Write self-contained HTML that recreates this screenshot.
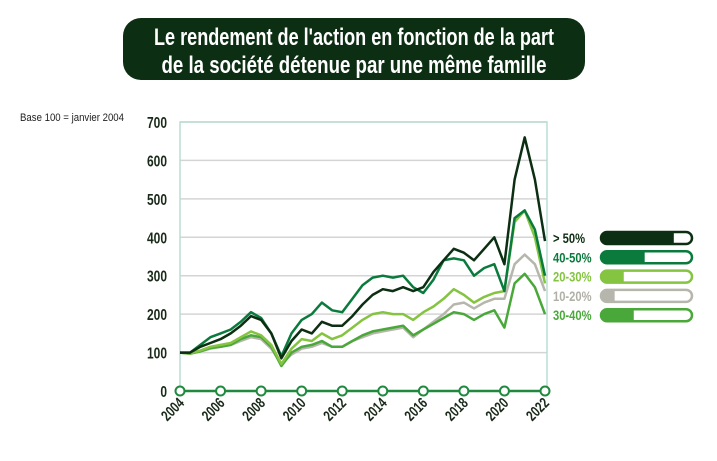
<!DOCTYPE html>
<html><head><meta charset="utf-8"><style>
body{margin:0;background:#fff;width:717px;height:461px;overflow:hidden;font-family:"Liberation Sans",sans-serif}
</style></head><body>
<svg id="chart" width="717" height="461" style="position:absolute;left:0;top:0">
<rect x="123" y="18" width="462" height="62" rx="18" fill="#0c2e12"/>
<text x="354" y="45" text-anchor="middle" font-size="24" font-weight="bold" fill="#fff" textLength="400" lengthAdjust="spacingAndGlyphs">Le rendement de l'action en fonction de la part</text>
<text x="354" y="73" text-anchor="middle" font-size="24" font-weight="bold" fill="#fff" textLength="385" lengthAdjust="spacingAndGlyphs">de la société détenue par une même famille</text>
<text x="20" y="121" font-size="11" fill="#222" textLength="104" lengthAdjust="spacingAndGlyphs">Base 100 = janvier 2004</text>
</svg>
<script>
const years=[2004,2004.5,2005,2005.5,2006,2006.5,2007,2007.5,2008,2008.5,2009,2009.5,2010,2010.5,2011,2011.5,2012,2012.5,2013,2013.5,2014,2014.5,2015,2015.5,2016,2016.5,2017,2017.5,2018,2018.5,2019,2019.5,2020,2020.5,2021,2021.5,2022];
const s50=[100,100,115,125,135,150,170,195,185,150,85,130,160,150,180,170,170,195,225,250,265,260,270,260,270,310,340,370,360,340,370,400,330,550,660,550,390];
const s4050=[100,100,120,140,150,160,180,205,190,150,90,150,185,200,230,210,205,240,275,295,300,295,300,270,255,290,340,345,340,300,320,330,260,450,470,420,300];
const s2030=[100,98,105,115,120,125,140,155,145,120,70,110,135,130,150,135,145,165,185,200,205,200,200,185,205,220,240,265,250,230,245,255,260,440,470,400,280];
const s1020=[100,97,103,110,115,120,130,140,135,110,70,95,110,115,125,115,115,130,140,150,155,160,165,140,160,180,200,225,230,215,230,240,240,330,355,330,260];
const s3040=[100,97,103,112,115,120,135,145,140,115,65,100,115,120,130,115,115,130,145,155,160,165,170,145,160,175,190,205,200,185,200,210,165,280,305,270,200];
const yTicks=[0,100,200,300,400,500,600,700];
const xTicks=[2004,2006,2008,2010,2012,2014,2016,2018,2020,2022];
const legendLabels=["> 50%","40-50%","20-30%","10-20%","30-40%"];
const legendShares=[0.8,0.48,0.25,0.15,0.36];
const colors=["#0c2e12","#0b7a3d","#84c441","#b6b6ad","#4aa83a"];
const NS="http://www.w3.org/2000/svg",svg=document.getElementById('chart');
const X=v=>180+(v-2004)*(365/18), Y=v=>391-v*(269/700);
function mk(t,a){const e=document.createElementNS(NS,t);for(const k in a)e.setAttribute(k,a[k]);svg.appendChild(e);return e;}
yTicks.forEach(t=>{
 if(t>0){const g=mk('line',{x1:180,x2:547,y1:Y(t),y2:Y(t),stroke:'#d4d4d4','stroke-width':1.5});
 
 }
 const l=mk('text',{'text-anchor':'end','font-size':16,'font-weight':'bold',fill:'#1a2a1a',transform:`translate(167 ${Y(t)+6}) scale(0.75 1)`});l.textContent=t;
 
 
});
const fr=mk('path',{d:`M180 391V${Y(700)}H547V391`,fill:'none',stroke:'#b9ddd3','stroke-width':1.5});


const order=[3,4,2,1,0];
order.forEach(i=>{
 const d=[s50,s4050,s2030,s1020,s3040][i];
 const p=mk('path',{d:'M'+d.map((v,j)=>X(years[j]).toFixed(1)+' '+Y(v).toFixed(1)).join('L'),fill:'none',stroke:colors[i],'stroke-width':2.5,'stroke-linejoin':'round'});
 
 
});
const ax=mk('line',{x1:180,x2:547,y1:391,y2:391,stroke:'#1f8a3e','stroke-width':2.5});


xTicks.forEach(t=>{
 const c=mk('circle',{cx:X(t),cy:391,r:4.5,fill:'#fff',stroke:'#1f8a3e','stroke-width':2});
 
 
 const l=mk('text',{'text-anchor':'end','font-size':15,'font-weight':'bold',fill:'#1a2a1a',transform:`translate(${X(t)+5} 404) rotate(-45) scale(0.75 1)`});l.textContent=t;
 
 
});
legendLabels.forEach((lab,i)=>{
 const y=238+i*19.3;
 const t=mk('text',{'font-size':14,'font-weight':'bold',fill:colors[i]==='#b6b6ad'?'#b0b0a6':colors[i],transform:`translate(553 ${y+5}) scale(0.8 1)`});t.textContent=lab;
 
 
 const w=91,x0=601;
 const cp=mk('clipPath',{id:'cp'+i});
 const cr=document.createElementNS(NS,'rect');
 cr.setAttribute('x',x0);cr.setAttribute('y',y-6);cr.setAttribute('width',w);cr.setAttribute('height',12);cr.setAttribute('rx',6);
 cp.appendChild(cr);
 const f=mk('rect',{x:x0,y:y-6,width:w*legendShares[i],height:12,fill:colors[i],'clip-path':`url(#cp${i})`});
 
 
 const o=mk('rect',{x:x0,y:y-6,width:w,height:12,rx:6,fill:'none',stroke:colors[i],'stroke-width':2.5});
 
 
});
</script>
</body></html>
